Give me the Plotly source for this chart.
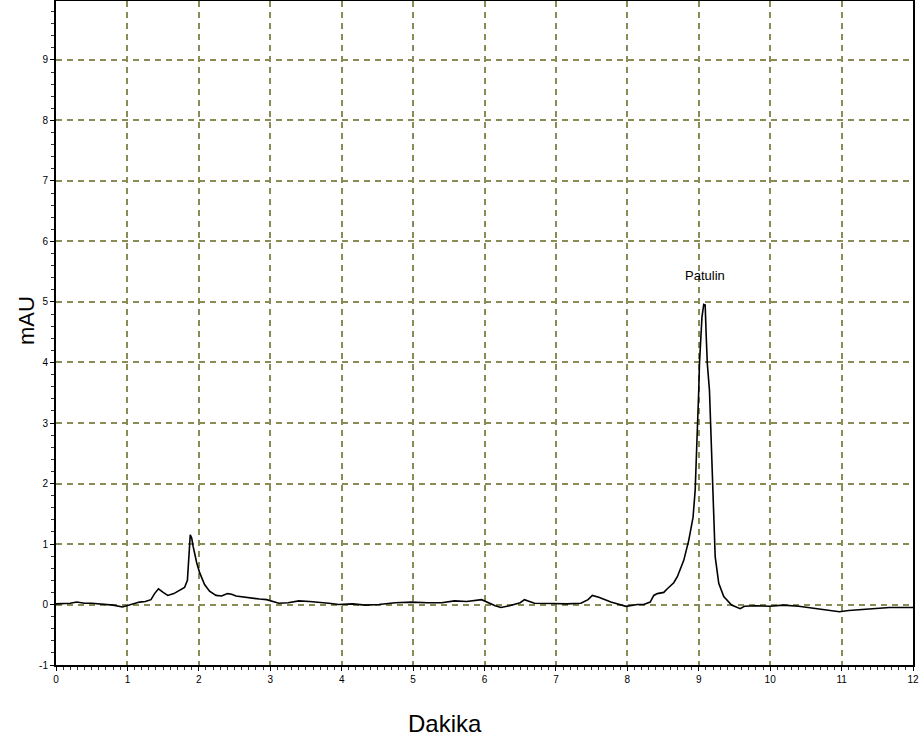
import plotly.graph_objects as go

# Retention time (minutes) and absorbance (mAU)
time_min = [0, 0.1, 0.2, 0.29, 0.4, 0.5, 0.6, 0.7, 0.8, 0.93,
            1.05, 1.17, 1.25, 1.33, 1.38, 1.435, 1.5, 1.565, 1.65, 1.73,
            1.80, 1.84, 1.86, 1.88, 1.90, 1.92, 1.97, 2.01, 2.08, 2.15,
            2.24, 2.32, 2.40, 2.46, 2.52, 2.63, 2.75, 2.85, 2.95, 3.12,
            3.25, 3.40, 3.55, 3.68, 3.82, 3.96, 4.15, 4.33, 4.52, 4.75,
            4.98, 5.2, 5.4, 5.58, 5.75, 5.96, 6.05, 6.15, 6.23, 6.35,
            6.5, 6.56, 6.63, 6.70, 6.96, 7.15, 7.35, 7.45, 7.51, 7.6,
            7.77, 7.9, 7.98, 8.14, 8.23, 8.32, 8.37, 8.42, 8.51, 8.56,
            8.65, 8.70, 8.79, 8.86, 8.92, 8.95, 8.97, 8.98, 9.00, 9.01,
            9.03, 9.045, 9.07, 9.09, 9.105, 9.12, 9.15, 9.17, 9.19, 9.21,
            9.23, 9.28, 9.35, 9.46, 9.58, 9.64, 9.8, 10.0, 10.18, 10.4,
            10.65, 10.8, 10.97, 11.1, 11.3, 11.5, 11.67, 11.85, 12.0]

absorbance = [0.01, 0.01, 0.02, 0.04, 0.02, 0.02, 0.01, 0.0, -0.01, -0.04,
              0.0, 0.04, 0.05, 0.08, 0.18, 0.26, 0.20, 0.15, 0.18, 0.24,
              0.28, 0.40, 0.80, 1.15, 1.10, 0.96, 0.69, 0.53, 0.33, 0.22,
              0.15, 0.14, 0.18, 0.17, 0.14, 0.12, 0.10, 0.09, 0.08, 0.02,
              0.03, 0.06, 0.05, 0.04, 0.02, 0.0, 0.01, -0.01, 0.0, 0.03,
              0.04, 0.03, 0.03, 0.06, 0.05, 0.08, 0.03, -0.02, -0.05, -0.02,
              0.03, 0.08, 0.05, 0.02, 0.016, 0.01, 0.02, 0.08, 0.15, 0.12,
              0.04, 0.0, -0.03, 0.0, 0.0, 0.04, 0.15, 0.18, 0.2, 0.26,
              0.36, 0.46, 0.73, 1.06, 1.44, 1.89, 2.44, 2.99, 3.54, 3.98,
              4.37, 4.75, 4.96, 4.95, 4.42, 3.98, 3.54, 2.83, 2.0, 1.34,
              0.79, 0.35, 0.13, -0.01, -0.07, -0.03, -0.02, -0.03, -0.01, -0.03,
              -0.07, -0.09, -0.12, -0.1, -0.08, -0.06, -0.05, -0.05, -0.05]

x_ticks = list(range(0, 13))
y_ticks = list(range(-1, 10))
y_tick_text = ["-1", "0", "1", "2", "3", "4", "5", "6", "7", "8", "9"]
peak_label = "Patulin"
peak_time = 9.09
peak_label_y = 5.43

GRID = "#8b8b55"

fig = go.Figure()
fig.add_trace(go.Scatter(x=time_min, y=absorbance, mode="lines",
                         line=dict(color="black", width=1.6),
                         hoverinfo="x+y", showlegend=False))

fig.add_annotation(x=peak_time, y=peak_label_y, text=peak_label, showarrow=False,
                   font=dict(family="Liberation Sans, Arial", size=13, color="black"))
fig.add_annotation(xref="paper", yref="paper", x=0.454, y=-0.0886, text="Dakika",
                   showarrow=False, xanchor="center", yanchor="middle",
                   font=dict(family="Liberation Sans, Arial", size=24, color="black"))
fig.add_annotation(xref="paper", yref="paper", x=-0.035, y=0.518, text="mAU",
                   showarrow=False, xanchor="center", yanchor="middle", textangle=-90,
                   font=dict(family="Liberation Sans, Arial", size=22, color="black"))

axis_common = dict(
    showline=True, linecolor="black", linewidth=2, mirror=True,
    showgrid=True, gridcolor=GRID, griddash="6px,5px", gridwidth=1.5,
    zeroline=False, ticks="outside", ticklen=4, tickcolor="black", tickwidth=1,
    ticklabeloverflow="allow", automargin=False,
    tickfont=dict(family="Liberation Sans, Arial", size=10, color="black"),
)

fig.update_xaxes(range=[0, 12], tickmode="array", tickvals=x_ticks,
                 minor=dict(dtick=0.1, ticks="outside", ticklen=3, tickcolor="#333", showgrid=False),
                 **axis_common)
fig.update_yaxes(range=[-1.0, 9.975], tickmode="array", tickvals=y_ticks, ticktext=y_tick_text,
                 minor=dict(dtick=0.2, ticks="outside", ticklen=3, tickcolor="#333", showgrid=False),
                 **axis_common)

fig.update_layout(width=920, height=749, paper_bgcolor="white", plot_bgcolor="white",
                  margin=dict(l=56, r=7, t=1, b=84), showlegend=False)

fig.write_html("out.html")
